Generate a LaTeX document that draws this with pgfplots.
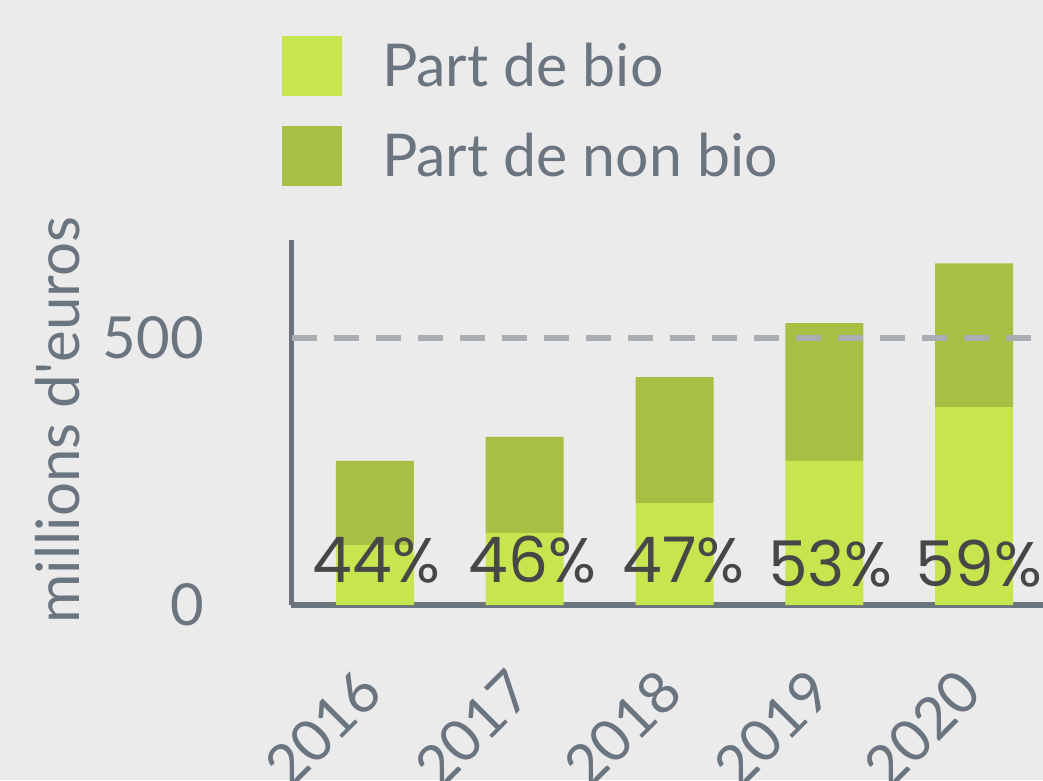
\documentclass[border=0pt]{standalone}
\usepackage{pgfplots}
\pgfplotsset{compat=1.18}
\usepackage{fontspec}
\setmainfont{Lato}
\newfontfamily\pctfont{Poppins}
\definecolor{bgcol}{HTML}{EBEBEB}
\definecolor{textcol}{HTML}{6B7580}
\definecolor{axiscol}{HTML}{6B737C}
\definecolor{bioL}{HTML}{C6E54F}
\definecolor{bioD}{HTML}{A7BF42}
\definecolor{dashcol}{HTML}{AAADB1}
\definecolor{pctcol}{HTML}{474747}
\tikzset{pct/.style={font=\pctfont\fontsize{63}{63}\selectfont, text=pctcol, anchor=base, inner sep=0pt}}
\begin{document}
\begin{tikzpicture}[x=1pt,y=1pt]
\useasboundingbox (0,0) rectangle (1043,780);
\fill[bgcol] (0,0) rectangle (1043,780);
\clip (0,0) rectangle (1043,780);
\begin{axis}[
  at={(291pt,175pt)}, anchor=south west,
  scale only axis, width=809pt, height=365pt,
  xmin=-0.56, xmax=4.84, ymin=0, ymax=684,
  ybar stacked, bar width=78pt,
  axis x line=bottom, axis y line=left,
  axis line style={-, draw=axiscol},
  x axis line style={line width=6pt},
  y axis line style={line width=5pt},
  xtick={0,1,2,3,4}, xticklabels={2016,2017,2018,2019,2020},
  ytick={0,500}, major tick length=0pt,
  /pgf/number format/assume math mode=true,
  tick label style={font=\fontsize{58}{60}\selectfont, text=textcol},
  yticklabel style={inner sep=0pt, xshift=-87pt},
  xticklabel style={inner sep=0pt, xshift=-4pt, yshift=-76pt, rotate=45, anchor=east},
  ylabel={millions d\textquotesingle euros},
  ylabel style={at={(axis description cs:-0.288,0.507)}, anchor=center, font=\fontsize{60}{60}\selectfont, text=textcol},
  legend style={at={(axis description cs:-0.0111,1.559)}, anchor=north west, draw=none, fill=none,
    inner sep=0pt, outer sep=0pt, row sep=30pt, font=\fontsize{59}{59}\selectfont, text=textcol,
    nodes={inner sep=0pt}, /tikz/every odd column/.append style={column sep=40pt}},
  legend cell align=left,
  after end axis/.code={
    \node[pct] at (axis cs:0.01,43) {44\%};
    \node[pct] at (axis cs:1.05,43) {46\%};
    \node[pct] at (axis cs:2.06,43) {47\%};
    \node[pct] at (axis cs:3.04,35.6) {53\%};
    \node[pct] at (axis cs:4.03,35.6) {59\%};
  },
]
\draw[dashcol, line width=6pt, dash pattern=on 25pt off 17pt] (axis cs:-0.553,500) -- (axis cs:4.84,500);
\addplot[fill=bioL, draw=none, legend image code/.code={\fill[fill=bioL] (0pt,-30pt) rectangle (60pt,30pt);}]
  coordinates {(0,112) (1,135) (2,191) (3,270) (4,371)};
\addlegendentry{Part de bio}
\addplot[fill=bioD, draw=none, legend image code/.code={\fill[fill=bioD] (0pt,-30pt) rectangle (60pt,30pt);}]
  coordinates {(0,158) (1,180) (2,236) (3,258) (4,269)};
\addlegendentry{Part de non bio}
\end{axis}
\end{tikzpicture}
\end{document}
